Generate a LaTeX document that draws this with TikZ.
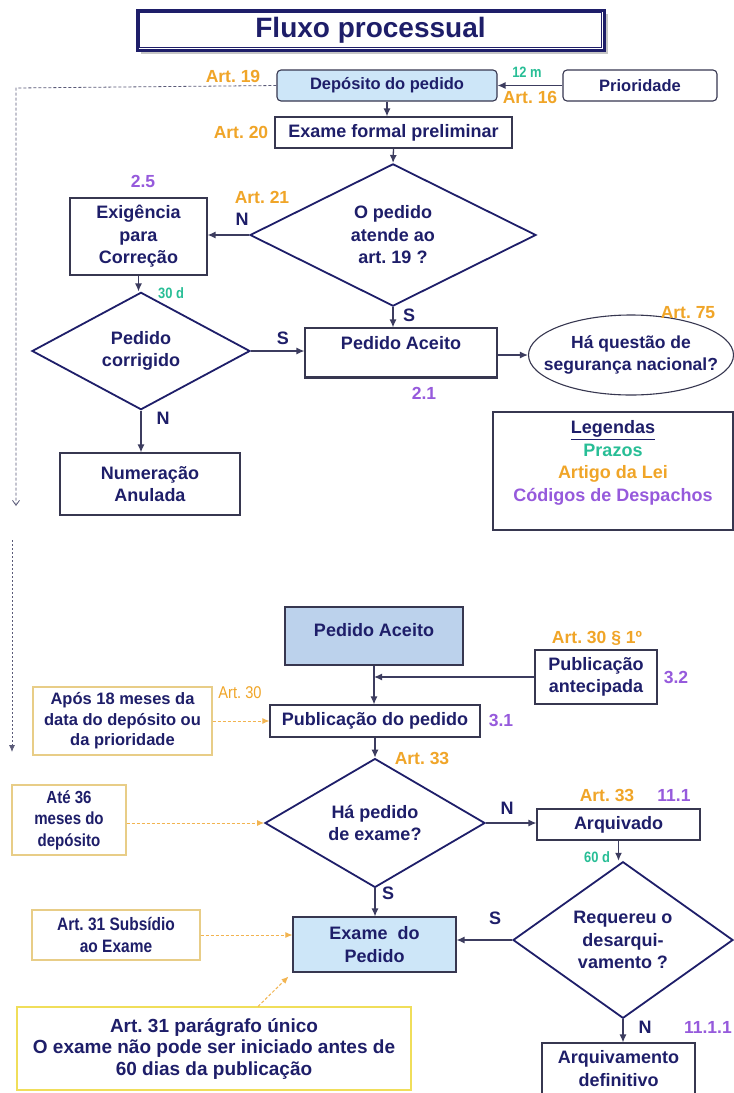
\documentclass[tikz,border=0pt]{standalone}
\usepackage{fontspec}
\setmainfont{Liberation Sans}
\newfontfamily\nf[FakeStretch=0.86]{Liberation Sans}
\usetikzlibrary{shapes.geometric,arrows.meta}
\frenchspacing
\definecolor{navy}{RGB}{30,30,105}
\definecolor{boxc}{RGB}{55,55,80}
\definecolor{linec}{RGB}{60,60,95}
\definecolor{orangec}{RGB}{240,165,40}
\definecolor{tealc}{RGB}{40,190,150}
\definecolor{purplec}{RGB}{150,90,220}
\definecolor{lblue}{RGB}{205,230,248}
\definecolor{mblue}{RGB}{188,210,236}
\definecolor{tanc}{RGB}{232,205,135}
\definecolor{yelc}{RGB}{240,222,90}
\definecolor{dashc}{RGB}{242,180,80}
\definecolor{dotc}{RGB}{90,90,120}
\begin{document}
\begin{tikzpicture}[x=1pt,y=-1pt,
  box/.style={draw=boxc, line width=1.1pt, fill=white, text=navy, align=center, inner sep=0pt,
    font=\bfseries\fontsize{18}{22.5}\selectfont},
  dia/.style={diamond, draw=navy, line width=1.8pt, fill=white, text=navy, align=center, inner sep=0pt,
    font=\bfseries\fontsize{18}{22.5}\selectfont},
  note/.style={draw=tanc, line width=1.1pt, fill=white, text=navy, align=center, inner sep=0pt,
    font=\nf\bfseries\fontsize{17.5}{21.5}\selectfont},
  art/.style={text=orangec, inner sep=0pt, font=\bfseries\fontsize{17.5}{20}\selectfont},
  code/.style={text=purplec, inner sep=0pt, font=\bfseries\fontsize{17.5}{20}\selectfont},
  prazo/.style={text=tealc, inner sep=0pt, font=\nf\bfseries\fontsize{15}{18}\selectfont},
  yn/.style={text=navy, inner sep=0pt, font=\bfseries\fontsize{18}{20}\selectfont},
  conn/.style={draw=linec, line width=1.3pt, -{Latex[length=8pt,width=7pt]}},
  hint/.style={draw=dashc, line width=1pt, dash pattern=on 3pt off 2pt, -{Latex[length=7pt,width=6pt]}},
]
\useasboundingbox[fill=white] (0,0) rectangle (734,1093);

% ---------- title ----------
\fill[gray!45] (141,14) rectangle (608,54);
\node (title) [draw=navy, line width=3pt, fill=white, minimum width=467pt, minimum height=40pt, inner sep=0pt,
  text=navy, font=\bfseries\fontsize{28}{32}\selectfont] at (370.5,30) {Fluxo processual};
\draw[navy, line width=0.9pt] ([shift={(4,4)}]title.north west) rectangle ([shift={(-4,-4)}]title.south east);

% ---------- upper flow ----------
\node (dep) [box, rounded corners=4pt, fill=lblue, minimum width=220pt, minimum height=31pt,
  font=\bfseries\fontsize{16.5}{20}\selectfont] at (387,85.5) {Depósito do pedido};
\node (prio) [box, rounded corners=4pt, minimum width=154pt, minimum height=31pt,
  font=\bfseries\fontsize{16.5}{20}\selectfont] at (640,85.5) {Prioridade};
\node (a19) [art] at (233,76) {Art. 19};
\node (p12) [prazo] at (527,72) {12 m};
\node (a16) [art] at (530,97) {Art. 16};
\draw[conn] (prio.west) -- (dep.east);

\node (exf) [box, minimum width=237pt, minimum height=31pt] at (393.5,132.5) {Exame formal preliminar};
\node (a20) [art] at (241,132) {Art. 20};
\draw[conn] (dep.south) -- (dep.south |- exf.north);

\node (d1) [dia, minimum width=286pt, minimum height=142pt] at (393,235) {O pedido\\atende ao\\art. 19 ?};
\draw[conn] (exf.south) -- (d1.north);

\node (c25) [code] at (143,181) {2.5};
\node (a21) [art] at (262,197) {Art. 21};
\node (n1) [yn] at (242,219) {N};
\node (exig) [box, minimum width=137pt, minimum height=77pt] at (138.5,236.5) {Exigência\\para\\Correção};
\draw[conn] (d1.west) -- (d1.west -| exig.east);

\node (d2) [dia, minimum width=218pt, minimum height=98pt] at (141,351) {Pedido\\corrigido};
\node (p30) [prazo] at (171,293) {30 d};
\draw[conn] (exig.south) -- (exig.south |- d2.north);

\node (pa1) [box, minimum width=192pt, minimum height=50pt, text depth=20pt] at (401,353) {Pedido Aceito};
\draw[boxc, line width=1.1pt] ([yshift=2.5pt]pa1.south west) -- ([yshift=2.5pt]pa1.south east);
\node (c21) [code] at (424,393) {2.1};
\node (s1) [yn] at (283,338) {S};
\draw[conn] (d2.east) -- (d2.east -| pa1.west);
\node (s2) [yn] at (409,315) {S};
\draw[conn] (d1.south) -- (d1.south |- pa1.north);

\node (ell) [ellipse, draw=boxc, line width=1.1pt, fill=white, text=navy, align=center, inner xsep=-15pt, inner ysep=0pt,
  minimum width=205pt, minimum height=80pt, font=\bfseries\fontsize{17.5}{22}\selectfont]
  at (631,355) {Há questão de\\segurança nacional?};
\node (a75) [art] at (688,313) {Art. 75};
\draw[conn] (pa1.east |- ell.west) -- (ell.west);

\node (num) [box, minimum width=180pt, minimum height=62pt] at (150,484) {Numeração\\Anulada};
\node (n2) [yn] at (163,418) {N};
\draw[conn] (d2.south) -- (d2.south |- num.north);

\node (leg) [draw=boxc, line width=1.1pt, fill=white, minimum width=240pt, minimum height=118pt, inner sep=0pt] at (613,471) {};
\node (legt) [align=center, inner sep=0pt, font=\bfseries\fontsize{18}{22.5}\selectfont] at (613,463)
  {\textcolor{navy}{\underline{Legendas}}\\ \textcolor{tealc}{Prazos}\\ \textcolor{orangec}{Artigo da Lei}\\ \textcolor{purplec}{Códigos de Despachos}};

% dashed return line
\coordinate (dcorner) at (16,88);
\coordinate (dend) at (16,506);
\draw[dotc, line width=0.8pt, dash pattern=on 3pt off 2pt, -{Straight Barb[length=5pt,width=7pt]}] (dep.west) -- (dcorner) -- (dend);
\coordinate (tstart) at (12,540);
\coordinate (tend) at (12,752);
\draw[dotc, line width=0.8pt, dash pattern=on 2pt off 2pt, -{Latex[length=7pt,width=6pt]}] (tstart) -- (tend);

% ---------- lower flow ----------
\node (pa2) [box, fill=mblue, minimum width=178pt, minimum height=58pt, text depth=12pt] at (374,636) {Pedido Aceito};
\node (pant) [box, minimum width=122pt, minimum height=54pt] at (596,677) {Publicação\\antecipada};
\node (a301) [art] at (597,638) {Art. 30 § 1º};
\node (c32) [code] at (676,677) {3.2};
\node (pub) [box, minimum width=210pt, minimum height=32pt] at (375,721) {Publicação do pedido};
\node (c31) [code] at (501,720) {3.1};
\draw[conn] (pa2.south) -- (pa2.south |- pub.north);
\draw[conn] (pant.west) -- (pa2.south |- pant.west);

\node (apos) [note, minimum width=179pt, minimum height=68pt, font=\bfseries\fontsize{16.5}{20.5}\selectfont] at (122.5,721) {Após 18 meses da\\data do depósito ou\\da prioridade};
\node (a30) [art, font=\nf\fontsize{17}{20}\selectfont] at (240,693) {Art. 30};
\draw[hint] (apos.east) -- (pub.west);

\node (d3) [dia, minimum width=220pt, minimum height=118pt] at (375,823) {Há pedido\\de exame?};
\node (a33a) [art] at (422,758) {Art. 33};
\draw[conn] (pub.south) -- (d3.north);

\node (ate) [note, minimum width=114pt, minimum height=70pt] at (69,820) {Até 36\\meses do\\depósito};
\draw[hint] (ate.east |- d3.west) -- (d3.west);

\node (arq) [box, minimum width=163pt, minimum height=31pt] at (618.5,824.5) {Arquivado};
\node (n3) [yn] at (507,808) {N};
\node (a33b) [art] at (607,795) {Art. 33};
\node (c111) [code] at (674,795) {11.1};
\draw[conn] (d3.east) -- (d3.east -| arq.west);

\node (d4) [dia, minimum width=220pt, minimum height=143pt] at (623,940) {Requereu o\\desarqui-\\vamento ?};
\node (p60) [prazo] at (597,857) {60 d};
\draw[conn] (arq.south) -- (arq.south |- d4.north);

\node (exa) [box, fill=lblue, minimum width=163pt, minimum height=55pt] at (374.5,944.5) {Exame~~do\\Pedido};
\node (s3) [yn] at (495,918) {S};
\draw[conn] (d4.west) -- (d4.west -| exa.east);
\node (s4) [yn] at (388,893) {S};
\draw[conn] (d3.south) -- (d3.south |- exa.north);

\node (sub) [note, minimum width=168pt, minimum height=50pt, font=\nf\bfseries\fontsize{18}{22}\selectfont] at (116,935) {Art. 31 Subsídio\\ao Exame};
\draw[hint] (sub.east) -- (sub.east -| exa.west);

\node (par) [note, draw=yelc, minimum width=394pt, minimum height=83pt, font=\bfseries\fontsize{19}{21.5}\selectfont] at (214,1048.5)
  {Art. 31 parágrafo único\\O exame não pode ser iniciado antes de\\60 dias da publicação};
\coordinate (parp) at ([xshift=44pt]par.north);
\draw[hint] (parp) -- ([shift={(-4,4)}]exa.south west);

\node (arqdef) [box, minimum width=153pt, minimum height=57pt, text depth=6pt] at (618.5,1071.5) {Arquivamento\\definitivo};
\node (n4) [yn] at (645,1027) {N};
\node (c1111) [code, anchor=east] at (732,1027) {11.1.1};
\draw[conn] (d4.south) -- (d4.south |- arqdef.north);
\end{tikzpicture}
\end{document}
